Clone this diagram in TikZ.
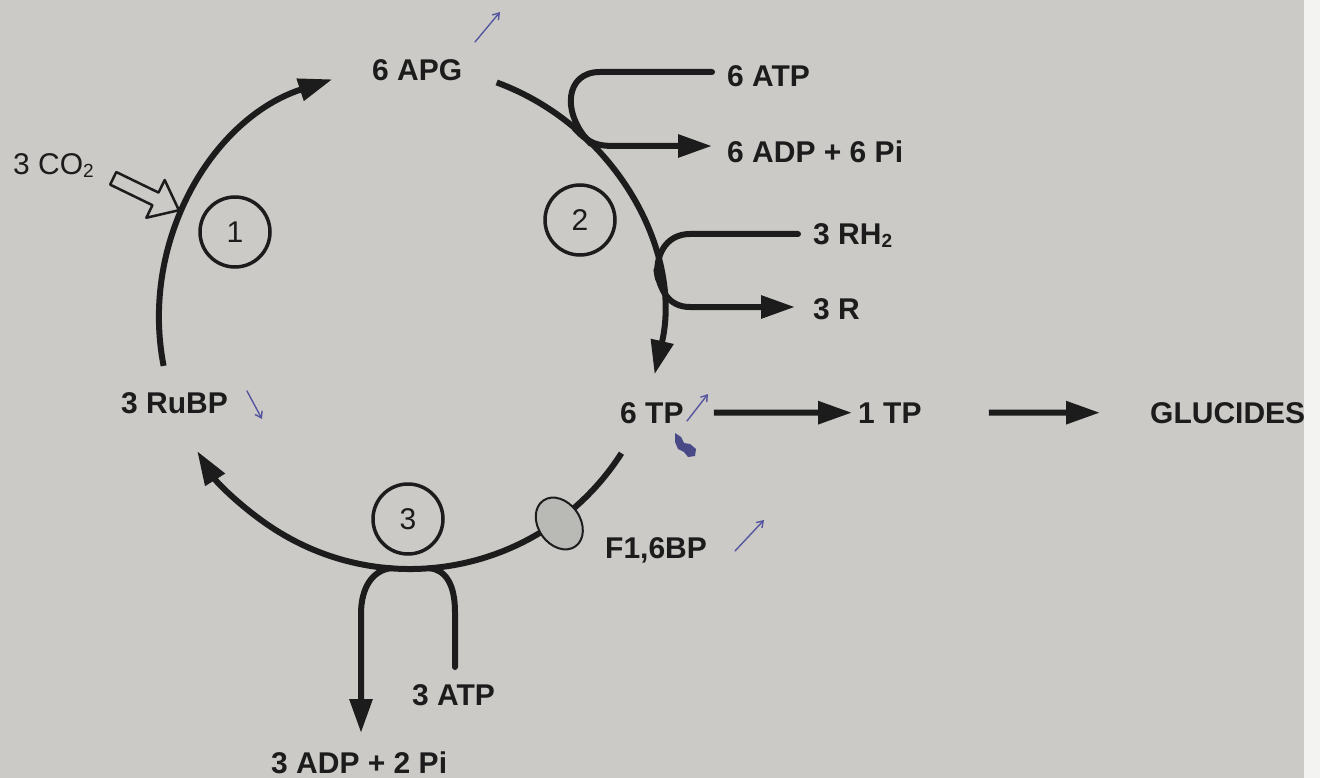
\documentclass[tikz,border=0pt]{standalone}
\usepackage{fontspec}
\setmainfont{Liberation Sans}
\usetikzlibrary{arrows.meta,calc,shapes.geometric}
\definecolor{ink}{HTML}{1C1C1C}
\definecolor{paper}{HTML}{CBCAC6}
\definecolor{margin}{HTML}{F3F3F1}
\definecolor{penblue}{HTML}{5656A0}
\definecolor{knob}{HTML}{B9B9B6}
\newcommand\subtxt[1]{\raisebox{-0.1em}{\fontsize{19}{19}\selectfont #1}}
\begin{document}
\begin{tikzpicture}[x=1pt,y=-1pt,
  lbl/.style={font=\fontsize{30}{36}\selectfont\bfseries,text=ink,inner sep=0pt,anchor=base west},
  lbln/.style={lbl,font=\fontsize{30}{36}\selectfont},
  flow/.style={draw=ink,line width=6pt},
  branch/.style={flow,line cap=round},
  head/.style={-{Triangle[length=34pt,width=22pt]}},
  stage/.style={circle,draw=ink,line width=3.5pt,minimum size=70pt,inner sep=0pt,
    font=\fontsize{30}{36}\selectfont,text=ink},
  inkmark/.style={draw=penblue,line width=1.4pt,line cap=round,
    -{Straight Barb[length=6pt,width=8pt]}}
]
% sheet
\fill[paper] (0,0) rectangle (1304,778);
\fill[margin] (1304,0) rectangle (1320,778);
\useasboundingbox (0,0) rectangle (1320,778);

% Calvin cycle: three arcs round one centre
\coordinate (O) at (410,318);
\coordinate (a1s) at ($(O)+(-191:251)$);
\coordinate (a2s) at ($(O)+(-69.8:251)$);
\coordinate (a3s) at ($(O)+(32.6:251)$);
\draw[flow,head] (a1s) arc[start angle=-191,end angle=-108,radius=251];
\draw[flow,head] (a2s) arc[start angle=-69.8,end angle=13,radius=251];
\draw[flow,head] (a3s) arc[start angle=32.6,end angle=148,radius=251];

% F1,6BP marker on the regeneration arc
\node[ellipse,draw=ink,fill=knob,line width=2pt,minimum width=42pt,minimum height=56pt,
  rotate=35] (f16) at ($(O)+(54:254)$) {};

% stage numbers
\node[stage] (s1) at (235,232) {1};
\node[stage] (s2) at (580,220) {2};
\node[stage] (s3) at (408,519) {3};

% metabolites
\node[lbln] (co2) at (13,175) {3 CO\subtxt{2}};
\node[lbl] (apg) at (372,81) {6 APG};
\node[lbl] (rubp) at (121,413) {3 RuBP};
\node[lbl] (tp6) at (620,423) {6 TP};
\node[lbl] (tp1) at (858,423) {1 TP};
\node[lbl] (glu) at (1150,423) {GLUCIDES};
\node[lbl] (f16bp) at (605,558) {F1,6BP};
\node[lbl] (atp6) at (727,87) {6 ATP};
\node[lbl] (adp6) at (727,163) {6 ADP + 6 Pi};
\node[lbl] (rh2) at (813,244) {3 RH\subtxt{2}};
\node[lbl] (r3) at (813,319) {3 R};
\node[lbl] (atp3) at (412,705) {3 ATP};
\node[lbl] (adp3) at (271,773) {3 ADP + 2 Pi};

% CO2 entry (hollow arrow)
\coordinate (co2tip) at ($(O)+(-155:255)$);
\begin{scope}[shift={(co2tip)},rotate=-25.9]
  \draw[ink,line width=2.5pt,fill=paper,line join=round]
    (0,0) -- (-26,-21) -- (-26,-7) -- (-73,-7) -- (-73,7) -- (-26,7) -- (-26,21) -- cycle;
\end{scope}

% ATP / ADP coupling on stage 2
\coordinate (j1) at ($(O)+(-44:251)$);
\coordinate (j1b) at ($(O)+(-49:251)$);
\coordinate (atpin) at (712,72);
\coordinate (adpout) at (712,146);
\draw[branch] (atpin) -- (600,72) .. controls (565,72) and (561,113) .. (j1);
\draw[branch,head] (j1b) .. controls (589,144) and (598,146) .. (615,146) -- (adpout);

% RH2 / R coupling on stage 2
\coordinate (j2) at ($(O)+(-9:251)$);
\coordinate (j2b) at ($(O)+(-11:251)$);
\coordinate (rhin) at (798,234);
\coordinate (rout) at (795,307);
\draw[branch] (rhin) -- (690,234) .. controls (665,234) and (654.5,257) .. (j2);
\draw[branch,head] (j2b) .. controls (660.2,289.7) and (668,307) .. (690,307) -- (rout);

% ATP / ADP coupling on stage 3
\coordinate (j3) at ($(O)+(85.5:251)$);
\coordinate (j3b) at ($(O)+(94.5:251)$);
\coordinate (atp3in) at (455,667);
\coordinate (adp3out) at (361,733);
\draw[branch] (atp3in) -- (455,612) .. controls (455,585) and (446,570) .. (j3);
\draw[branch,head] (j3b) .. controls (372,571) and (361,588) .. (361,614) -- (adp3out);

% export of triose phosphate
\draw[flow,head] ([xshift=30pt]tp6.east) -- ([xshift=-6pt]tp1.west);
\draw[flow,head] ([xshift=67pt]tp1.east) -- ([xshift=-50pt]glu.west);

% pen annotations
\draw[inkmark] (475,42) -- (500,12);
\draw[inkmark] (247,391) -- (262,419);
\draw[inkmark] (687,421) -- (708,394);
\draw[inkmark] (735,551) -- (764,520);
\fill[penblue!85!black] (675,433) -- (681,437) -- (684,443) -- (690,444) -- (696,449)
  -- (695,456) -- (688,457) -- (684,452) -- (678,449) -- (675,442) -- cycle;
\end{tikzpicture}
\end{document}
